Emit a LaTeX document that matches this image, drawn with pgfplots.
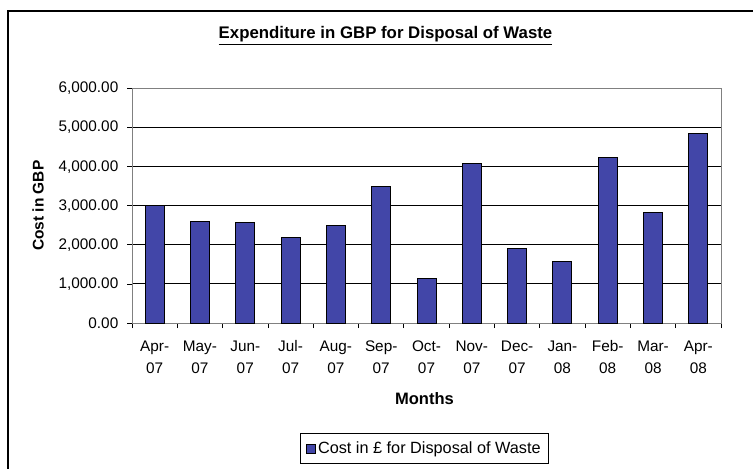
\documentclass[border=0pt]{standalone}
\usepackage{pgfplots}
\pgfplotsset{compat=1.18}
\usepackage{fontspec}
\setmainfont{Liberation Sans}
\definecolor{barcol}{RGB}{66,70,168}
\definecolor{bordgray}{RGB}{128,128,128}
\pgfplotstableread{
x y
0 3000
1 2600
2 2560
3 2190
4 2490
5 3480
6 1130
7 4080
8 1915
9 1580
10 4240
11 2840
12 4850
}\costdata
\begin{document}
\begin{tikzpicture}
\useasboundingbox (0,0) rectangle (564.75pt,-351pt);
\begin{scope}
\clip (0,0) rectangle (564.75pt,-351pt);
\draw[line width=0.9pt,black] (6pt,-8.25pt) rectangle (580pt,-370pt);
\end{scope}
\begin{axis}[
  at={(99pt,-242.25pt)}, anchor=south west,
  scale only axis,
  width=441.75pt, height=175.875pt,
  xmin=-0.5, xmax=12.5,
  ymin=0, ymax=6000,
  ytick={0,1000,...,6000},
  xtick={0,...,12},
  xticklabels={{Apr-\\07},{May-\\07},{Jun-\\07},{Jul-\\07},{Aug-\\07},{Sep-\\07},{Oct-\\07},{Nov-\\07},{Dec-\\07},{Jan-\\08},{Feb-\\08},{Mar-\\08},{Apr-\\08}},
  minor xtick={-0.5,0.5,...,12.5},
  major x tick style={draw=none},
  minor tick length=3.75pt,
  major tick length=3.75pt,
  tick align=outside,
  xtick pos=bottom, ytick pos=left,
  tick style={black, line width=0.6pt},
  axis line style={bordgray, line width=0.75pt},
  ymajorgrids,
  major grid style={black, line width=0.75pt},
  /pgf/number format/assume math mode=true,
  yticklabel={\pgfmathprintnumber[fixed,fixed zerofill,precision=2,1000 sep={,}]{\tick}},
  scaled y ticks=false,
  ticklabel style={font=\fontsize{11.5}{16.5}\selectfont},
  xticklabel style={align=center, yshift=-6pt},
  yticklabel style={xshift=-3pt},
  title={\textbf{\underline{Expenditure in GBP for Disposal of Waste}}},
  title style={at={(axis description cs:0.4304,1.19)}, anchor=center, font=\fontsize{12.6}{14}\selectfont},
  xlabel={\textbf{Months}},
  xlabel style={at={(axis description cs:0.4966,-0.324)}, anchor=center, font=\fontsize{12.4}{14}\selectfont},
  ylabel={\textbf{Cost in GBP}},
  ylabel style={at={(axis description cs:-0.1596,0.5)}, anchor=center, font=\fontsize{11.6}{13}\selectfont},
  legend style={at={(axis description cs:0.4966,-0.535)}, anchor=center, draw=black, line width=0.75pt,
    font=\fontsize{12.2}{14}\selectfont, inner xsep=4pt, inner ysep=4pt},
  legend image code/.code={\draw[fill=barcol,draw=black,line width=0.5pt] (0pt,-3.4pt) rectangle (6.8pt,3.4pt);},
]
\addplot[ybar, bar width=14.25pt, fill=barcol, draw=black, line width=0.75pt] table[x=x,y=y] {\costdata};
\addlegendentry{Cost in £ for Disposal of Waste}
\end{axis}
\end{tikzpicture}
\end{document}
